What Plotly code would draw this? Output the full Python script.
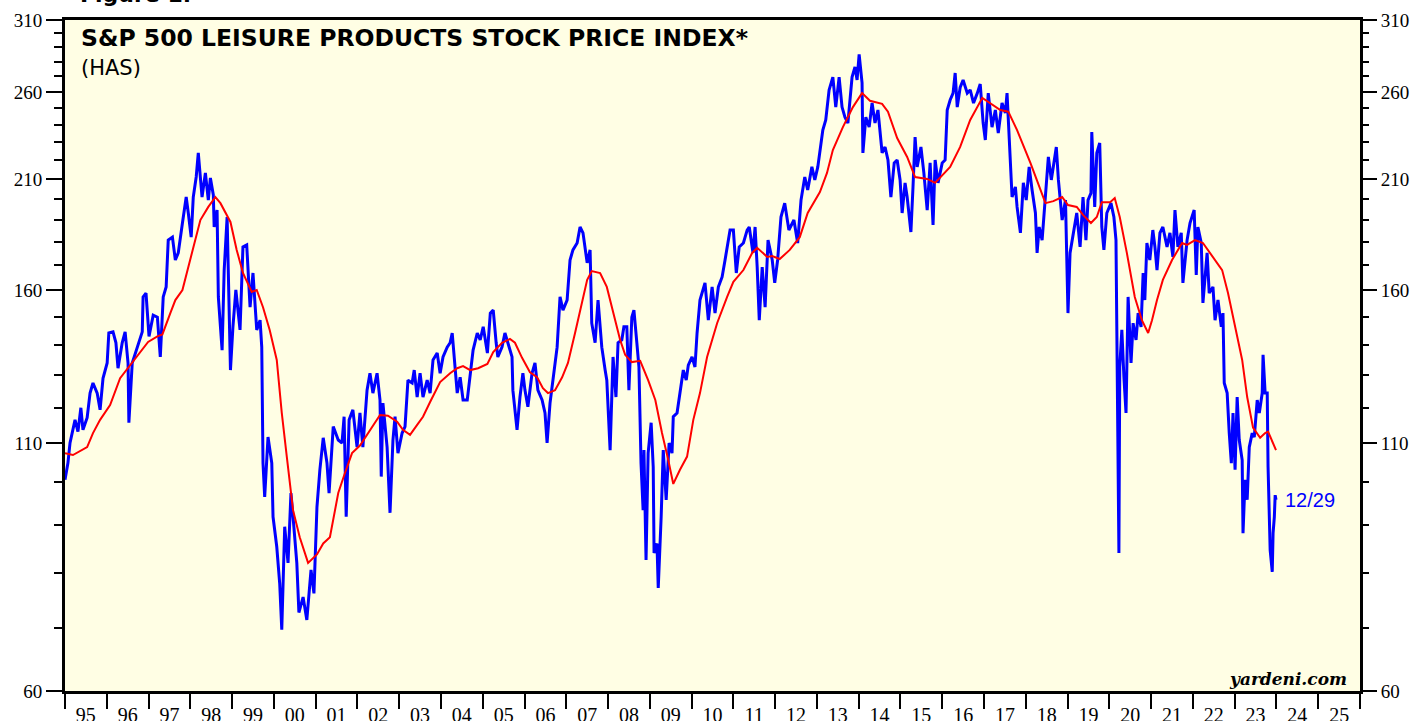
import numpy as np
import pandas as pd
import plotly.graph_objects as go

# ---------------- data (decimal year, index value) ----------------
BLUE_YEAR = [
 1995.00,1995.07,1995.12,1995.24,1995.31,1995.38,1995.43,1995.53,1995.60,1995.67,1995.77,1995.84,1995.91,
 1996.01,1996.05,1996.15,1996.22,1996.27,1996.37,1996.44,1996.51,1996.53,1996.61,1996.73,1996.85,1996.87,1996.94,
 1997.01,1997.11,1997.21,1997.28,1997.35,1997.42,1997.47,1997.57,1997.64,1997.71,1997.81,1997.90,1997.95,
 1998.02,1998.07,1998.14,1998.19,1998.28,1998.36,1998.43,1998.48,1998.55,1998.57,1998.64,1998.67,1998.76,1998.81,1998.88,1998.96,
 1999.02,1999.09,1999.19,1999.26,1999.35,1999.43,1999.50,1999.59,1999.67,1999.71,1999.74,1999.78,1999.86,1999.95,1999.98,
 2000.07,2000.14,2000.19,2000.26,2000.34,2000.41,2000.46,2000.55,2000.60,2000.70,2000.79,2000.89,2000.96,
 2001.03,2001.10,2001.18,2001.27,2001.32,2001.42,2001.54,2001.63,2001.68,2001.73,2001.80,2001.89,2001.99,
 2002.06,2002.13,2002.23,2002.30,2002.37,2002.47,2002.54,2002.57,2002.61,2002.71,2002.78,2002.85,2002.90,2002.97,
 2003.07,2003.14,2003.21,2003.31,2003.36,2003.43,2003.50,2003.57,2003.67,2003.74,2003.81,2003.91,2003.98,
 2004.05,2004.15,2004.22,2004.27,2004.34,2004.39,2004.46,2004.53,2004.63,2004.70,2004.77,2004.87,2004.94,
 2005.01,2005.11,2005.18,2005.25,2005.32,2005.36,2005.46,2005.53,2005.60,2005.70,2005.72,2005.82,2005.89,2005.96,
 2006.01,2006.08,2006.18,2006.25,2006.32,2006.42,2006.49,2006.54,2006.61,2006.68,2006.78,2006.85,2006.92,
 2007.02,2007.09,2007.16,2007.26,2007.33,2007.40,2007.50,2007.57,2007.61,2007.69,2007.76,2007.85,2007.93,2007.97,
 2008.05,2008.12,2008.19,2008.24,2008.33,2008.38,2008.45,2008.50,2008.57,2008.62,2008.69,2008.74,2008.79,2008.84,2008.86,2008.91,2008.96,
 2009.03,2009.08,2009.10,2009.17,2009.20,2009.27,2009.32,2009.39,2009.46,2009.53,2009.56,2009.65,2009.72,2009.80,2009.87,2009.92,
 2010.01,2010.08,2010.13,2010.20,2010.32,2010.40,2010.49,2010.56,2010.64,2010.73,2010.80,2010.92,
 2011.00,2011.07,2011.14,2011.24,2011.33,2011.38,2011.47,2011.52,2011.57,2011.62,2011.69,2011.76,2011.83,2011.93,2011.99,
 2012.06,2012.14,2012.23,2012.33,2012.45,2012.54,2012.62,2012.71,2012.78,2012.88,2012.95,
 2013.02,2013.10,2013.14,2013.21,2013.29,2013.38,2013.45,2013.53,2013.60,2013.67,2013.74,2013.84,2013.91,2013.96,
 2014.01,2014.08,2014.10,2014.17,2014.25,2014.32,2014.39,2014.46,2014.56,2014.63,2014.70,2014.77,2014.85,2014.92,2014.99,
 2015.04,2015.11,2015.16,2015.25,2015.30,2015.35,2015.40,2015.49,2015.56,2015.64,2015.71,2015.78,2015.83,2015.90,
 2016.00,2016.07,2016.12,2016.19,2016.26,2016.31,2016.36,2016.43,2016.50,2016.60,2016.67,2016.75,2016.84,2016.91,2016.98,
 2017.03,2017.10,2017.19,2017.27,2017.34,2017.43,2017.51,2017.55,2017.60,2017.67,2017.75,2017.79,2017.87,2017.94,
 2018.01,2018.08,2018.15,2018.23,2018.27,2018.32,2018.39,2018.47,2018.54,2018.61,2018.66,2018.73,2018.78,2018.87,2018.95,2018.98,
 2019.01,2019.06,2019.13,2019.22,2019.30,2019.37,2019.44,2019.49,2019.56,2019.58,2019.65,2019.70,2019.77,2019.82,2019.87,2019.94,
 2020.04,2020.11,2020.16,2020.18,2020.21,2020.23,2020.25,2020.30,2020.35,2020.40,2020.45,2020.52,2020.57,2020.64,2020.69,2020.76,2020.81,2020.85,2020.90,2020.97,
 2021.04,2021.09,2021.14,2021.21,2021.28,2021.38,2021.45,2021.52,2021.57,2021.64,2021.72,2021.76,2021.86,2021.93,
 2022.03,2022.08,2022.12,2022.20,2022.24,2022.34,2022.39,2022.48,2022.53,2022.60,2022.68,2022.72,2022.75,2022.82,2022.87,2022.92,2022.96,
 2023.01,2023.06,2023.11,2023.18,2023.20,2023.25,2023.30,2023.35,2023.42,2023.47,2023.54,2023.59,2023.66,2023.68,2023.73,2023.78,2023.80,
 2023.85,2023.90,2023.92,2023.95,2023.97,2023.99]
BLUE_VALUE = [
 100.6,104.8,110.1,116.5,113.2,120.0,113.7,117.1,124.4,127.5,124.4,119.4,129.0,
 133.9,144.1,144.5,140.7,132.2,140.7,144.5,133.9,115.7,133.9,139.2,144.5,157.4,158.9,
 142.9,150.5,149.8,135.9,157.4,161.3,180.9,182.2,172.3,175.3,188.6,201.0,193.3,
 182.2,201.0,211.1,223.9,201.0,213.2,199.5,210.6,202.0,186.8,194.7,157.4,138.2,168.1,191.4,131.6,
 146.3,160.1,145.2,177.9,178.8,153.5,166.9,145.2,148.7,139.2,104.8,96.5,111.7,104.8,91.9,
 85.4,78.1,69.7,89.7,82.1,97.4,91.9,82.1,72.7,75.5,71.4,80.7,76.2,
 94.1,103.1,111.5,104.8,97.4,114.6,110.9,110.1,117.4,91.9,116.5,119.4,109.0,
 118.5,109.0,125.3,130.6,124.4,130.6,122.3,101.4,121.4,109.0,92.8,110.9,117.4,107.4,
 112.8,114.6,128.4,127.5,131.6,123.2,130.6,123.2,128.4,124.4,134.9,137.2,130.6,
 135.9,139.2,140.7,144.1,132.6,124.4,129.3,122.3,122.3,130.6,138.2,144.1,141.7,
 146.3,137.2,151.3,152.4,140.7,135.9,139.2,144.1,140.7,135.9,125.3,113.7,123.2,130.6,
 125.3,120.3,130.6,133.9,125.3,122.3,118.5,110.1,121.4,128.4,139.2,157.4,152.4,
 156.2,172.3,176.6,179.6,186.8,184.1,171.1,176.6,147.6,140.7,156.2,139.2,131.6,128.4,
 108.2,135.9,123.2,140.7,141.7,146.3,146.3,125.3,149.8,152.4,140.7,132.6,104.8,93.4,108.2,82.7,107.4,
 115.7,103.8,84.1,86.1,77.2,91.9,108.2,95.8,110.1,107.4,117.4,118.5,124.4,131.6,128.4,133.2,
 135.9,132.6,144.1,156.2,162.9,148.7,161.3,151.3,161.3,165.3,172.3,185.4,
 185.4,166.9,177.9,179.6,185.4,186.8,175.3,186.8,169.3,148.7,169.3,153.5,180.9,172.3,162.9,
 172.3,191.4,198.0,185.4,190.0,179.6,199.5,211.1,204.5,216.4,209.6,
 216.4,229.4,236.8,242.7,261.2,269.6,250.5,269.6,250.5,244.4,240.9,269.6,276.3,267.7,
 285.0,265.8,223.9,244.4,238.5,253.0,240.9,248.7,223.9,227.2,220.1,201.0,218.5,220.1,209.6,
 193.3,208.1,201.0,184.5,206.0,232.8,216.4,227.2,213.2,194.7,218.5,187.7,220.1,208.1,
 218.5,220.1,248.7,254.9,259.2,272.3,250.5,262.8,267.7,259.2,261.2,253.0,259.2,265.0,240.9,
 231.1,259.2,238.5,248.7,235.1,253.0,246.9,259.2,231.1,201.0,206.0,196.2,184.1,208.1,
 199.5,216.4,204.5,193.3,175.3,186.8,180.9,202.9,221.7,209.6,216.4,227.2,209.6,190.0,199.5,173.6,
 151.3,175.3,182.2,193.3,177.9,201.0,180.9,199.5,202.9,235.6,196.2,223.9,229.4,186.8,176.6,193.3,
 198.0,191.4,180.9,145.2,124.4,84.1,132.6,145.2,129.3,118.5,157.4,133.9,147.6,141.7,151.3,146.3,166.9,156.2,179.6,172.3,
 185.4,177.9,168.1,184.1,186.8,177.9,184.1,173.6,194.7,177.9,184.1,162.9,180.9,188.6,
 194.7,166.1,186.8,179.6,155.1,175.3,158.9,161.3,148.7,156.2,146.3,151.3,127.5,124.4,112.8,104.8,118.5,
 103.1,123.2,110.9,105.6,88.3,100.6,95.8,109.0,112.8,111.7,122.3,118.5,124.4,136.6,124.4,124.4,103.8,
 84.7,80.3,88.3,91.9,96.9,95.8]

RED_YEAR = [
 1995.00,1995.19,1995.53,1995.67,1995.84,1996.08,1996.32,1996.56,1996.80,1996.99,1997.21,1997.33,1997.52,1997.64,1997.81,
 1998.00,1998.24,1998.43,1998.60,1998.72,1998.84,1998.96,1999.11,1999.26,1999.47,1999.59,1999.74,1999.90,
 2000.07,2000.19,2000.31,2000.46,2000.62,2000.82,2001.03,2001.18,2001.34,2001.54,2001.70,2001.87,
 2002.06,2002.30,2002.54,2002.73,2002.95,2003.09,2003.26,2003.43,2003.57,2003.74,2003.98,
 2004.22,2004.39,2004.53,2004.70,2004.89,2005.11,2005.25,2005.46,2005.65,2005.77,2005.94,
 2006.13,2006.30,2006.44,2006.56,2006.73,2006.90,2007.04,2007.21,2007.38,2007.50,2007.61,2007.81,2007.97,
 2008.12,2008.29,2008.41,2008.57,2008.77,2008.96,2009.13,2009.29,2009.44,2009.56,2009.72,2009.89,
 2010.04,2010.20,2010.37,2010.61,2010.85,2011.00,2011.24,2011.45,2011.57,2011.81,2011.93,
 2012.11,2012.35,2012.59,2012.78,2013.07,2013.24,2013.38,2013.62,2013.86,2014.08,2014.27,2014.56,2014.70,2014.92,
 2015.16,2015.35,2015.64,2015.83,2016.02,2016.19,2016.43,2016.67,2016.96,2017.15,2017.39,2017.58,2017.79,
 2018.11,2018.27,2018.47,2018.66,2018.87,2019.01,2019.22,2019.37,2019.56,2019.70,2019.82,
 2020.02,2020.13,2020.25,2020.42,2020.61,2020.78,2020.93,2021.02,2021.14,2021.28,2021.50,2021.74,2021.86,
 2022.05,2022.24,2022.48,2022.70,2022.84,2023.06,2023.18,2023.30,2023.44,2023.61,2023.73,2023.80,2023.92,2023.99]
RED_VALUE = [
 107.4,106.9,109.0,112.8,116.5,120.8,129.0,133.2,137.5,141.0,142.9,143.6,151.3,156.2,160.1,
 172.3,190.0,196.2,201.0,198.0,193.3,189.1,176.6,166.9,159.3,160.1,153.5,145.2,
 134.9,118.5,106.5,93.4,87.4,82.1,83.8,86.1,87.4,97.4,102.3,107.4,
 109.4,113.7,117.9,117.7,116.0,113.7,112.3,115.1,117.4,121.7,127.8,
 130.6,132.2,132.9,131.6,132.2,133.6,137.5,140.7,142.0,140.7,135.6,
 130.9,129.3,125.9,124.4,125.3,129.3,133.9,144.1,156.2,164.1,167.7,166.9,161.3,
 151.3,141.7,136.6,134.2,134.6,128.4,122.3,112.8,105.6,99.6,103.1,106.5,
 116.5,124.4,135.9,147.6,157.4,163.3,168.1,175.3,177.5,173.6,174.0,
 172.7,176.6,182.2,193.3,203.5,213.2,225.5,238.5,250.5,259.2,254.4,252.5,247.7,232.2,
 221.7,211.1,210.1,208.1,212.2,216.4,227.2,242.7,256.2,253.0,248.7,247.7,236.8,
 218.5,209.6,198.0,199.0,201.0,197.1,196.2,192.4,188.6,191.4,198.5,
 198.5,200.5,191.4,175.3,157.4,148.7,144.1,148.7,156.2,164.1,172.3,179.6,178.8,
 180.9,179.6,173.6,168.1,158.9,142.9,134.9,123.2,114.3,111.5,112.8,113.2,110.1,108.2]

Y_MAJOR = [60, 110, 160, 210, 260, 310]
Y_MINOR = [70, 80, 90, 100, 120, 130, 140, 150, 170, 180, 190, 200,
           220, 230, 240, 250, 270, 280, 290, 300]
X_RANGE = ["1995-01-01", "2026-01-01"]
TITLE = "S&P 500 LEISURE PRODUCTS STOCK PRICE INDEX*"
SUBTITLE = "(HAS)"
LAST_LABEL = "12/29"


def to_dates(years):
    out = []
    for y in years:
        yi = int(np.floor(y))
        out.append(pd.Timestamp(year=yi, month=1, day=1) + pd.Timedelta(days=(y - yi) * 365.25))
    return out


blue_x = to_dates(BLUE_YEAR)
red_x = to_dates(RED_YEAR)

fig = go.Figure()
fig.add_trace(go.Scatter(x=blue_x, y=BLUE_VALUE, mode="lines",
                         line=dict(color="#0000ff", width=3), hoverinfo="skip", showlegend=False))
fig.add_trace(go.Scatter(x=red_x, y=RED_VALUE, mode="lines",
                         line=dict(color="#ff0000", width=2), hoverinfo="skip", showlegend=False))
# invisible trace to anchor the right-hand axis
fig.add_trace(go.Scatter(x=[blue_x[0]], y=[BLUE_VALUE[0]], yaxis="y2", mode="markers",
                         marker=dict(opacity=0), hoverinfo="skip", showlegend=False))

yrange = [np.log10(60), np.log10(310)]
tickfont = dict(family="Liberation Serif, Times New Roman, serif", size=19, color="black")

yax_common = dict(
    type="log", range=yrange, tickmode="array", tickvals=Y_MAJOR,
    ticktext=[str(v) for v in Y_MAJOR], ticks="outside", ticklen=16, tickwidth=2,
    tickcolor="black", showgrid=False, zeroline=False, tickfont=tickfont,
    automargin=False, fixedrange=True,
    minor=dict(tickmode="array", tickvals=Y_MINOR, ticks="outside", ticklen=8,
               tickwidth=2, tickcolor="black", showgrid=False),
)

fig.update_layout(
    width=1420, height=721,
    margin=dict(l=65, r=60, t=20, b=30, autoexpand=False),
    paper_bgcolor="white",
    plot_bgcolor="#fffee4",
    xaxis=dict(
        type="date", range=X_RANGE, tick0="1995-01-01", dtick="M12",
        tickformat="%y", ticklabelmode="period", ticks="outside", ticklen=15,
        tickwidth=2, tickcolor="black", showline=True, linewidth=3, linecolor="black",
        mirror=True, showgrid=False, zeroline=False, automargin=False, fixedrange=True,
        ticklabelstandoff=-11,
        tickfont=dict(family="Liberation Serif, Times New Roman, serif", size=20, color="black"),
    ),
    yaxis=dict(side="left", showline=True, linewidth=3, linecolor="black", mirror=True, **yax_common),
    yaxis2=dict(side="right", overlaying="y", showline=False, **yax_common),
)


def px_x(px):
    return (px - 65) / 1295.0


def px_y(py):
    return (691 - py) / 671.0


annotations = [
    dict(text="<b>Figure 1.</b>", x=px_x(78), y=px_y(8.5), xref="paper", yref="paper",
         xanchor="left", yanchor="bottom", showarrow=False,
         font=dict(family="DejaVu Sans, Arial, sans-serif", size=22, color="black")),
    dict(text="<b>" + TITLE.replace("&", "&amp;") + "</b>", x=px_x(79), y=px_y(38),
         xref="paper", yref="paper", xanchor="left", yanchor="middle", showarrow=False,
         font=dict(family="DejaVu Sans, Arial, sans-serif", size=23.5, color="black")),
    dict(text=SUBTITLE, x=px_x(79), y=px_y(68), xref="paper", yref="paper",
         xanchor="left", yanchor="middle", showarrow=False,
         font=dict(family="DejaVu Sans, Arial, sans-serif", size=21, color="black")),
    dict(text="<b><i>yardeni.com</i></b>", x=px_x(1349), y=px_y(679), xref="paper", yref="paper",
         xanchor="right", yanchor="middle", showarrow=False,
         font=dict(family="DejaVu Serif, serif", size=17, color="black")),
    dict(text=LAST_LABEL, x=px_x(1283), y=px_y(500), xref="paper", yref="paper",
         xanchor="left", yanchor="middle", showarrow=False,
         font=dict(family="Liberation Sans, Arial, sans-serif", size=20, color="#0000ff")),
]
fig.update_layout(annotations=annotations)

# remove the browser's default page margin so the 1420x721 figure fills the window exactly
fig.write_html("out.html",
               config={"displayModeBar": False},
               post_script="document.body.style.margin='0';document.body.style.overflow='hidden';")
